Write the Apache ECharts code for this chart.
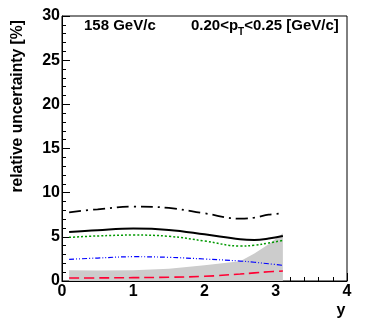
<!DOCTYPE html>
<html>
<head>
<meta charset="utf-8">
<script src="https://cdn.jsdelivr.net/npm/echarts@6/dist/echarts.min.js"></script>
<style>
  html, body { margin: 0; padding: 0; background: #fff; }
  #chart { width: 366px; height: 331px; }
</style>
</head>
<body>
<div id="chart"></div>
<script>
// rapidity points where the curves were read
const rapidity = [0.1, 0.5, 1.0, 1.5, 2.0, 2.5, 2.7, 2.9, 3.1]
// relative uncertainties [%]
const totalUnc = [5.55, 5.75, 5.93, 5.78, 5.28, 4.72, 4.64, 4.80, 5.10]
const dashDotUnc = [7.78, 8.12, 8.42, 8.27, 7.66, 7.06, 7.17, 7.51, 7.66]
const greenUnc = [4.94, 5.10, 5.20, 5.06, 4.53, 3.96, 4.05, 4.30, 4.60]
const blueUnc = [2.45, 2.60, 2.75, 2.68, 2.49, 2.26, 2.12, 1.95, 1.77]
const redUnc = [0.34, 0.35, 0.38, 0.43, 0.53, 0.79, 0.92, 1.05, 1.13]
const statUnc = [1.21, 1.20, 1.22, 1.40, 1.77, 2.25, 3.10, 4.15, 5.40]

const pair = (ys) => rapidity.map((x, i) => [x, ys[i]])

const font = 'Liberation Sans, Arial, sans-serif'
const chart = echarts.init(document.getElementById('chart'))

const line = (data, color, width, dash) => ({
    type: 'line',
    data: pair(data),
    smooth: 0.4,
    symbol: 'none',
    z: 3,
    lineStyle: { color: color, width: width, type: dash }
})

chart.setOption({
    animation: false,
    grid: {
        left: 62, right: 19, top: 16, bottom: 50,
        show: true, borderColor: '#000', borderWidth: 1
    },
    xAxis: {
        type: 'value', min: 0, max: 4, interval: 1,
        axisLine: { lineStyle: { color: '#000' } },
        axisTick: { inside: true, length: 8, lineStyle: { color: '#000' } },
        minorTick: { show: true, splitNumber: 5, length: 4, lineStyle: { color: '#000' } },
        splitLine: { show: false },
        axisLabel: { color: '#000', fontFamily: font, fontWeight: 'bold', fontSize: 16, margin: 3 }
    },
    yAxis: {
        type: 'value', min: 0, max: 30, interval: 5,
        axisLine: { lineStyle: { color: '#000' } },
        axisTick: { inside: true, length: 8, lineStyle: { color: '#000' } },
        minorTick: { show: true, splitNumber: 5, length: 4, lineStyle: { color: '#000' } },
        splitLine: { show: false },
        axisLabel: { color: '#000', fontFamily: font, fontWeight: 'bold', fontSize: 16, margin: 2 }
    },
    series: [
        {
            type: 'line',
            data: pair(statUnc),
            symbol: 'none',
            z: 1,
            lineStyle: { width: 0 },
            areaStyle: { color: '#cccccc', opacity: 1 }
        },
        line(redUnc, '#ff0033', 1.6, [10, 5]),
        line(blueUnc, '#0000ff', 1.2, [5, 2, 1, 2, 1, 2]),
        line(greenUnc, '#009900', 1.5, [2, 2]),
        line(totalUnc, '#000', 2, 'solid'),
        line(dashDotUnc, '#000', 1.8, [12, 5, 2, 5])
    ],
    graphic: [
        {
            type: 'text', x: 84, y: 26,
            style: {
                text: '158 GeV/c', font: 'bold 15px ' + font, fill: '#000',
                verticalAlign: 'middle'
            }
        },
        {
            type: 'text', x: 191, y: 26,
            style: {
                text: '0.20<p{sub|T}<0.25 [GeV/c]', font: 'bold 15px ' + font, fill: '#000',
                verticalAlign: 'middle',
                rich: { sub: { fontSize: 10, fontWeight: 'bold', fontFamily: font, padding: [12, 0, 0, 0] } }
            }
        },
        {
            type: 'text', x: 18, y: 20, rotation: Math.PI / 2,
            style: {
                text: 'relative uncertainty [%]', font: 'bold 15.7px ' + font, fill: '#000',
                align: 'right', verticalAlign: 'middle'
            }
        },
        {
            type: 'text', x: 341, y: 311,
            style: {
                text: 'y', font: 'bold 16px ' + font, fill: '#000',
                align: 'center', verticalAlign: 'middle'
            }
        }
    ]
})
</script>
</body>
</html>
